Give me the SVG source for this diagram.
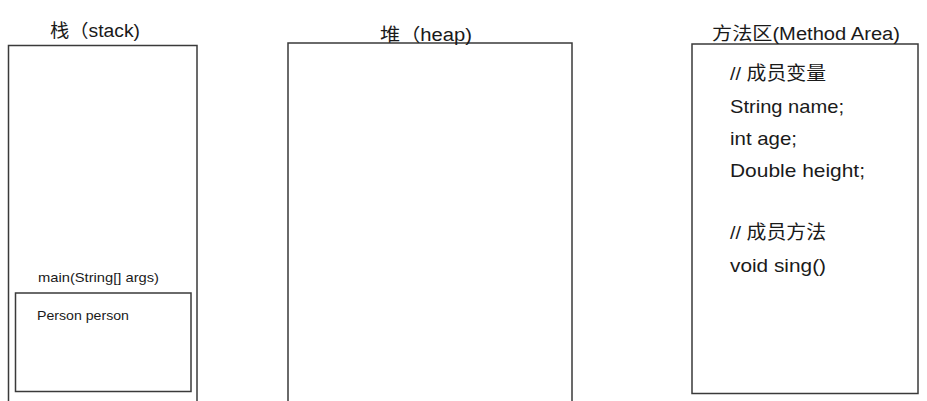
<svg xmlns="http://www.w3.org/2000/svg" width="927" height="401" viewBox="0 0 927 401">
<style>
.box{fill:none;stroke:#3a3a3a;stroke-width:1.5}
.t{font-family:"Liberation Sans","Noto Sans CJK SC",sans-serif;fill:#1a1a1a}
.title{font-size:18px}
.m{font-size:19px}
.s{font-size:13.5px}
</style>
<rect width="927" height="401" fill="#ffffff"/>
<g id="stack">
<rect class="box" x="8.5" y="45.5" width="188.5" height="365"/>
<text class="t title" x="50" y="37" textLength="90" lengthAdjust="spacingAndGlyphs">栈（stack)</text>
<text class="t s" x="38" y="282" textLength="121" lengthAdjust="spacingAndGlyphs">main(String[] args)</text>
</g>
<g id="main-frame">
<rect class="box" x="15.5" y="293" width="175.5" height="98.5"/>
<text class="t s" x="37" y="320" textLength="92" lengthAdjust="spacingAndGlyphs">Person person</text>
</g>
<g id="heap">
<rect class="box" x="288" y="43" width="284" height="370"/>
<text class="t title" x="380" y="41" textLength="92" lengthAdjust="spacingAndGlyphs">堆（heap)</text>
</g>
<g id="method-area">
<rect class="box" x="692" y="44" width="226" height="349.5"/>
<text class="t title" x="712" y="40" textLength="188" lengthAdjust="spacingAndGlyphs">方法区(Method Area)</text>
<text class="t m" x="730" y="80" textLength="96" lengthAdjust="spacingAndGlyphs">// 成员变量</text>
<text class="t m" x="730" y="113" textLength="114" lengthAdjust="spacingAndGlyphs">String name;</text>
<text class="t m" x="730" y="145" textLength="67" lengthAdjust="spacingAndGlyphs">int age;</text>
<text class="t m" x="730" y="177" textLength="135" lengthAdjust="spacingAndGlyphs">Double height;</text>
<text class="t m" x="730" y="239" textLength="96" lengthAdjust="spacingAndGlyphs">// 成员方法</text>
<text class="t m" x="730" y="272" textLength="96" lengthAdjust="spacingAndGlyphs">void sing()</text>
</g>
<g id="connectors"/>
</svg>
